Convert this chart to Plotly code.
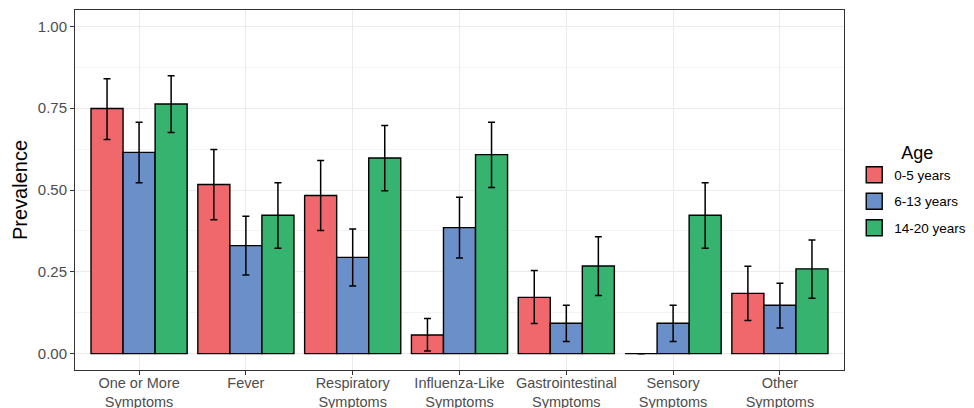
import plotly.graph_objects as go

categories = ["One or More<br>Symptoms", "Fever", "Respiratory<br>Symptoms",
              "Influenza-Like<br>Symptoms", "Gastrointestinal<br>Symptoms",
              "Sensory<br>Symptoms", "Other<br>Symptoms"]
age_groups = ["0-5 years", "6-13 years", "14-20 years"]
colors = ["#F0686B", "#6B8FC8", "#35B36F"]

prev_0_5 = [0.749, 0.517, 0.483, 0.057, 0.172, 0.0, 0.184]
lo_0_5 = [0.654, 0.409, 0.376, 0.008, 0.092, None, 0.101]
hi_0_5 = [0.840, 0.624, 0.590, 0.107, 0.254, None, 0.267]

prev_6_13 = [0.615, 0.330, 0.294, 0.385, 0.093, 0.093, 0.148]
lo_6_13 = [0.522, 0.240, 0.207, 0.292, 0.037, 0.037, 0.078]
hi_6_13 = [0.707, 0.420, 0.381, 0.478, 0.148, 0.148, 0.215]

prev_14_20 = [0.763, 0.423, 0.598, 0.608, 0.268, 0.423, 0.259]
lo_14_20 = [0.676, 0.322, 0.498, 0.508, 0.178, 0.322, 0.169]
hi_14_20 = [0.849, 0.522, 0.697, 0.707, 0.357, 0.522, 0.347]

y_ticks = [0, 0.25, 0.5, 0.75, 1.0]
y_tick_labels = ["0.00", "0.25", "0.50", "0.75", "1.00"]

series = [(prev_0_5, lo_0_5, hi_0_5), (prev_6_13, lo_6_13, hi_6_13),
          (prev_14_20, lo_14_20, hi_14_20)]

fig = go.Figure()
for name, col, (vals, lo, hi) in zip(age_groups, colors, series):
    plus = [None if h is None else h - v for v, h in zip(vals, hi)]
    minus = [None if l is None else v - l for v, l in zip(vals, lo)]
    fig.add_trace(go.Bar(
        x=categories, y=vals, name=name, showlegend=False, legendgroup=name,
        marker=dict(color=col, line=dict(color="black", width=1.4)),
        error_y=dict(type="data", symmetric=False, array=plus, arrayminus=minus,
                     color="black", thickness=1.5, width=3.5),
    ))
# legend keys (square swatches)
for name, col in zip(age_groups, colors):
    fig.add_trace(go.Scatter(
        x=[None], y=[None], mode="markers", name=name, legendgroup=name,
        marker=dict(symbol="square", size=24, color=col,
                    line=dict(color="black", width=1.4)),
    ))

# page body has an 8px default margin, so the figure is sized to fit
fig.update_layout(
    width=966, height=400,
    margin=dict(l=67, r=130, t=2, b=38),
    paper_bgcolor="white", plot_bgcolor="white",
    barmode="group", bargap=0.1, bargroupgap=0,
    font=dict(family="Liberation Sans, Arial, sans-serif", color="#4D4D4D", size=15),
    showlegend=True,
    legend=dict(title=dict(text="\u00a0" * 9 + "Age",
                           font=dict(size=18, color="black")),
                font=dict(size=13.5, color="black"), itemsizing="trace",
                xref="container", yref="container",
                x=0.876, xanchor="left", y=0.545, yanchor="middle",
                traceorder="grouped", tracegroupgap=6,
                bgcolor="rgba(0,0,0,0)"),
)
fig.update_xaxes(
    range=[-0.6, 6.6], showgrid=True, gridcolor="#EBEBEB", gridwidth=1,
    ticks="outside", ticklen=4, tickcolor="#333333", automargin=False,
    showline=True, linecolor="#333333", mirror=True, linewidth=1,
    tickfont=dict(size=14.5, color="#4D4D4D"), zeroline=False,
    ticklabelstandoff=-4,
)
fig.update_yaxes(
    range=[-0.05, 1.05], tickvals=y_ticks, ticktext=y_tick_labels,
    showgrid=True, gridcolor="#EBEBEB", gridwidth=1, automargin=False,
    minor=dict(dtick=0.125, tick0=0.125, showgrid=True, gridcolor="#F3F3F3", gridwidth=0.7),
    ticks="outside", ticklen=4, tickcolor="#333333",
    showline=True, linecolor="#333333", mirror=True, linewidth=1,
    tickfont=dict(size=15, color="#4D4D4D"), zeroline=False,
    title=dict(text="Prevalence", font=dict(size=20, color="black"), standoff=4),
)

fig.write_html("out.html")
